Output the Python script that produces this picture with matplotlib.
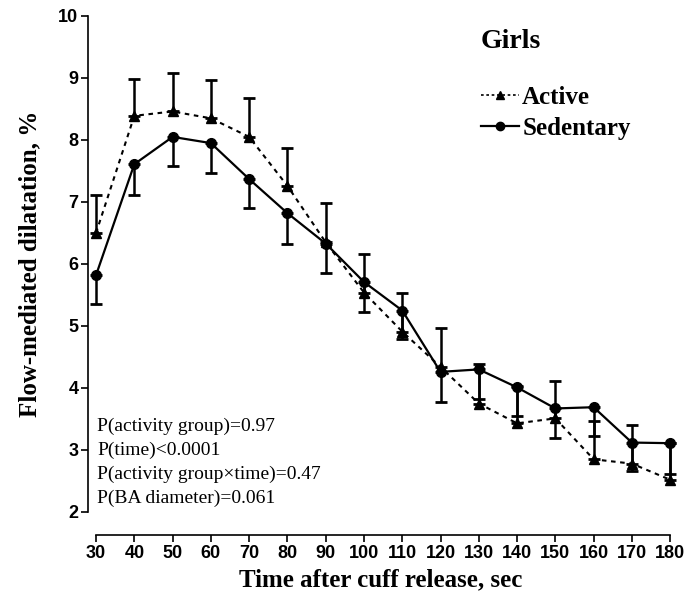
import matplotlib
matplotlib.use("Agg")
import matplotlib.pyplot as plt
from matplotlib.lines import Line2D
import numpy as np

# data
time = [30, 40, 50, 60, 70, 80, 90, 100, 110, 120, 130, 140, 150, 160, 170, 180]
active_mean = [6.50, 8.39, 8.46, 8.35, 8.05, 7.26, 6.35, 5.54, 4.91, 4.34, 3.75, 3.43, 3.51, 2.85, 2.78, 2.52]
active_sem = [0.62, 0.60, 0.62, 0.62, 0.62, 0.61, 0.63, 0.62, 0.62, 0.63, 0.63, 0.60, 0.60, 0.61, 0.63, 0.59]
sed_mean = [5.82, 7.61, 8.05, 7.95, 7.37, 6.82, 6.33, 5.71, 5.25, 4.26, 4.30, 4.01, 3.67, 3.69, 3.12, 3.11]
sed_sem = [0.47, 0.49, 0.47, 0.48, 0.47, 0.49, 0.48, 0.48, 0.46, 0.48, 0.48, 0.46, 0.47, 0.46, 0.46, 0.49]

p_lines = [
    "P(activity group)=0.97",
    "P(time)<0.0001",
    "P(activity group\u00d7time)=0.47",
    "P(BA diameter)=0.061",
]

serif = "Liberation Serif"
sans = "Liberation Sans"

fig = plt.figure(figsize=(6.86, 5.96), dpi=100)
W, H = 686, 596
ax = fig.add_axes([88 / W, 1 - 512 / H, (674 - 88) / W, (512 - 16) / H])

zeros = np.zeros(len(time))

# active: dotted line, triangles, upper error only
ax.errorbar(time, active_mean, yerr=[zeros, active_sem], color="black",
            linestyle=(0, (2.2, 2.2)), linewidth=1.5, marker="^", markersize=7,
            capsize=4.3, capthick=2, elinewidth=1.8, clip_on=False, zorder=3)
# sedentary: solid line, circles, lower error only
ax.errorbar(time, sed_mean, yerr=[sed_sem, zeros], color="black",
            linestyle="-", linewidth=1.6, marker="o", markersize=7,
            capsize=4.3, capthick=2, elinewidth=1.8, clip_on=False, zorder=3)

ax.set_xlim(27.9, 181)
ax.set_ylim(2, 10)
ax.set_xticks(time)
ax.set_yticks(range(2, 11))

for s in ["top", "right"]:
    ax.spines[s].set_visible(False)
ax.spines["left"].set_bounds(2, 10)
ax.spines["bottom"].set_bounds(30, 180)
ax.spines["bottom"].set_position(("outward", 16.5))
ax.spines["left"].set_linewidth(1.2)
ax.spines["bottom"].set_linewidth(1.2)

ax.tick_params(direction="out", length=5, width=1.2, pad=2)
for lab in ax.get_xticklabels() + ax.get_yticklabels():
    lab.set_fontfamily(sans)
    lab.set_fontweight("bold")
    lab.set_fontsize(13)

ax.set_xlabel("Time after cuff release, sec", fontfamily=serif, fontweight="bold",
              fontsize=18, labelpad=5)
ax.set_ylabel("Flow-mediated dilatation, %", fontfamily=serif, fontweight="bold",
              fontsize=18, labelpad=12)

# title and legend
fig.text(481 / W, 1 - 42 / H, "Girls", fontfamily=serif, fontweight="bold",
         fontsize=20, va="center", ha="left")
handles = [
    Line2D([], [], color="black", linestyle=(0, (1.6, 1.6)), linewidth=1.2, marker="^", markersize=6),
    Line2D([], [], color="black", linestyle="-", linewidth=1.6, marker="o", markersize=6),
]
leg = fig.legend(handles, ["Active", "Sedentary"], loc="upper left",
                 bbox_to_anchor=(476 / W, 1 - 81 / H), frameon=False,
                 borderaxespad=0, borderpad=0.2,
                 handlelength=1.5, handletextpad=0.15, labelspacing=0.3,
                 prop={"family": serif, "weight": "bold", "size": 18})

# p-values
for i, txt in enumerate(p_lines):
    ax.text(97 / W, 1 - (426 + i * 24) / H, txt, transform=fig.transFigure,
            fontfamily=serif, fontsize=14, va="center", ha="left")

fig.savefig("out.png", dpi=100)
